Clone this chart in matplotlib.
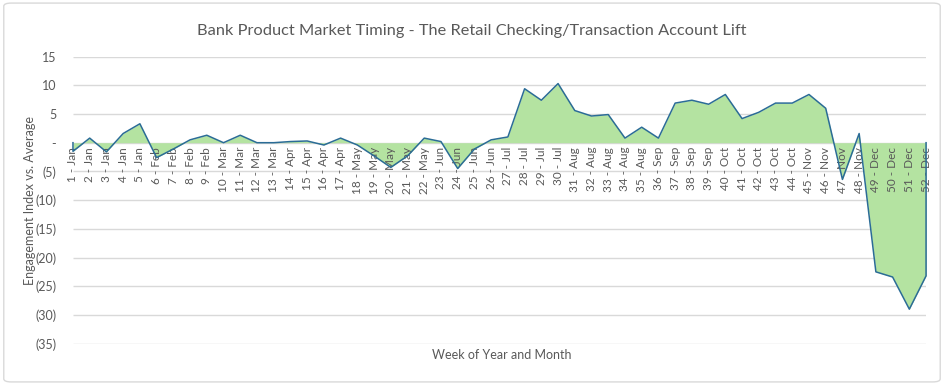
import numpy as np
import matplotlib.pyplot as plt
from matplotlib.patches import FancyBboxPatch
from matplotlib.ticker import FuncFormatter

plt.rcParams['font.family'] = ['Lato', 'DejaVu Sans']

# weekly engagement index vs. average
weeks = list(range(1, 53))
months = (['Jan'] * 5 + ['Feb'] * 4 + ['Mar'] * 4 + ['Apr'] * 4 + ['May'] * 5
          + ['Jun'] * 4 + ['Jul'] * 4 + ['Aug'] * 5 + ['Sep'] * 4 + ['Oct'] * 5
          + ['Nov'] * 4 + ['Dec'] * 4)
values = [-1.5, 0.8, -1.6, 1.6, 3.3, -2.6, -1.1, 0.5, 1.3, 0.0,
          1.3, 0.0, 0.0, 0.2, 0.3, -0.4, 0.8, -0.4, -2.3, -4.3,
          -2.3, 0.8, 0.2, -4.5, -1.1, 0.5, 1.0, 9.4, 7.4, 10.3,
          5.6, 4.65, 4.9, 0.8, 2.7, 0.8, 6.9, 7.4, 6.7, 8.4,
          4.2, 5.3, 6.9, 6.9, 8.4, 6.0, -6.4, 1.6, -22.5, -23.4,
          -29.0, -23.2]
labels = [f'{w} - {m}' for w, m in zip(weeks, months)]
yticks = np.arange(-35, 16, 5)

fill_color = '#b4e3a1'
line_color = '#2b6c96'
text_color = '#595959'
grid_color = '#d9d9d9'

fig = plt.figure(figsize=(9.44, 3.85), dpi=100)
ax = fig.add_axes([0.0773, 0.1075, 0.9037, 0.7455])

# gridlines under the area, tick labels above it
ax.hlines(yticks, 1, 52, color=grid_color, linewidth=1, zorder=0.5)
ax.fill_between(weeks, values, 0, color=fill_color, linewidth=0, zorder=1)
# outline includes vertical edges at both ends like the Excel area border
ax.plot([weeks[0]] + weeks + [weeks[-1]], [0] + values + [0],
        color=line_color, linewidth=1.1, zorder=3, clip_on=False)

ax.set_xlim(1, 52)
ax.set_ylim(-35, 15)

# category axis crosses at zero
ax.spines['bottom'].set_position(('data', 0))
for s in ['bottom', 'top', 'right', 'left']:
    ax.spines[s].set_visible(False)

ax.set_yticks(yticks)


def acct(v, pos):
    if v == 0:
        return '-'
    if v < 0:
        return f'({abs(v):.0f})'
    return f'{v:.0f}'


ax.yaxis.set_major_formatter(FuncFormatter(acct))
ax.set_axisbelow(False)
ax.xaxis.set_zorder(2)

ax.set_xticks(weeks)
ax.set_xticklabels(labels, fontsize=8.5, color=text_color)
ax.tick_params(axis='x', length=0, pad=3, labelrotation=90)
ax.tick_params(axis='y', length=0, pad=12, labelsize=9, labelcolor=text_color)

fig.text(0.5, 0.92, 'Bank Product Market Timing - The Retail Checking/Transaction Account Lift',
         ha='center', va='center', fontsize=11.8, color=text_color)
fig.text(0.532, 0.077, 'Week of Year and Month', ha='center', va='center',
         fontsize=9, color=text_color)
fig.text(0.032, 0.48, 'Engagement Index vs. Average', ha='center', va='center',
         rotation=90, fontsize=9, color=text_color)

border = FancyBboxPatch((0.004, 0.008), 0.992, 0.984, boxstyle='round,pad=0,rounding_size=0.008',
                        transform=fig.transFigure, facecolor='none',
                        edgecolor=grid_color, linewidth=1)
fig.patches.append(border)

fig.savefig('out.png', dpi=100)
